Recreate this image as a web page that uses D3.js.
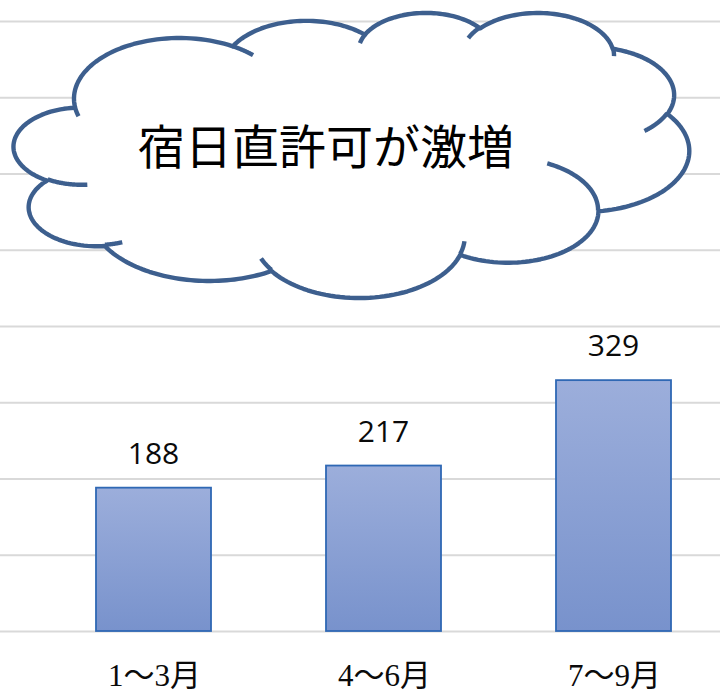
<!DOCTYPE html>
<html>
<head>
<meta charset="utf-8">
<script src="https://cdn.jsdelivr.net/npm/d3@7"></script>
<style>
  html, body { margin: 0; padding: 0; background: #ffffff; }
  svg { display: block; }
</style>
</head>
<body>
<svg id="chart" width="720" height="694"></svg>
<script>
// Quarterly counts of granted night/holiday duty permits
const categories = ["1～3月", "4～6月", "7～9月"];
const permits = [188, 217, 329];
const yTicks = [0, 100, 200, 300, 400, 500, 600, 700, 800];
const headline = "宿日直許可が激増";

const W = 720, H = 694;
const svg = d3.select("#chart");

const x = d3.scaleBand()
  .domain(categories)
  .range([38.5, 728.5])
  .paddingInner(0.5)
  .paddingOuter(0.25);

const y = d3.scaleLinear()
  .domain([0, 800])
  .range([631, 21]);

// horizontal gridlines across the whole width
const grid = svg.append("g")
  .attr("class", "grid")
  .call(d3.axisLeft(y).tickValues(yTicks).tickSize(-W).tickFormat(""));
grid.select(".domain").remove();
grid.selectAll(".tick line")
  .attr("stroke", "#d9d9d9")
  .attr("stroke-width", 2);

// vertical gradient fill for the bars
const defs = svg.append("defs");
const grad = defs.append("linearGradient")
  .attr("id", "barFill")
  .attr("x1", 0).attr("y1", 0).attr("x2", 0).attr("y2", 1);
grad.append("stop").attr("offset", "0%").attr("stop-color", "#9caedb");
grad.append("stop").attr("offset", "100%").attr("stop-color", "#7892cc");

svg.append("g").selectAll("rect")
  .data(permits)
  .join("rect")
  .attr("x", (d, i) => x(categories[i]))
  .attr("y", d => y(d))
  .attr("width", x.bandwidth())
  .attr("height", d => y(0) - y(d))
  .attr("fill", "url(#barFill)")
  .attr("stroke", "#2f68b4")
  .attr("stroke-width", 1.8);

// value labels above the bars
svg.append("g").selectAll("text")
  .data(permits)
  .join("text")
  .attr("x", (d, i) => x(categories[i]) + x.bandwidth() / 2)
  .attr("y", d => y(d) - 24)
  .attr("text-anchor", "middle")
  .attr("font-family", "'Open Sans', 'Noto Sans', sans-serif")
  .attr("font-size", 30)
  .attr("fill", "#0a0a0a")
  .text(d => d);

// category labels under the baseline
svg.append("g").selectAll("text")
  .data(categories)
  .join("text")
  .attr("x", d => x(d) + x.bandwidth() / 2 + 1)
  .attr("y", 686)
  .attr("text-anchor", "middle")
  .attr("font-family", "'Liberation Serif', 'Noto Sans CJK JP', serif")
  .attr("font-size", 31)
  .attr("fill", "#0a0a0a")
  .text(d => d);

// ---- cloud callout (preset cloud geometry, 43200 x 43200 path space) ----
const cloudBox = { x: 14, y: 12, w: 675, h: 285 };
const PS = 43200;
const A = v => v / 60000 * Math.PI / 180;

function paramAngle(wR, hR, a) {
  const t = Math.atan2(wR * Math.sin(a), hR * Math.cos(a));
  let d = t - a;
  while (d > Math.PI) d -= 2 * Math.PI;
  while (d < -Math.PI) d += 2 * Math.PI;
  return a + d;
}

function arcPoints(cur, wR, hR, stAng, swAng) {
  const a0 = A(stAng), a1 = A(stAng + swAng);
  const t0 = paramAngle(wR, hR, a0), t1 = paramAngle(wR, hR, a1);
  const cx = cur[0] - wR * Math.cos(t0), cy = cur[1] - hR * Math.sin(t0);
  const n = 48, pts = [];
  for (let k = 1; k <= n; k++) {
    const t = t0 + (t1 - t0) * k / n;
    pts.push([cx + wR * Math.cos(t), cy + hR * Math.sin(t)]);
  }
  return pts;
}

const toPx = p => [cloudBox.x + p[0] / PS * cloudBox.w, cloudBox.y + p[1] / PS * cloudBox.h];

const outlineStart = [3900, 14370];
const outlineArcs = [
  [6753, 9190, -11429249, 7426832],
  [5333, 7267, -8646143, 5396714],
  [4365, 5945, -8748475, 5983381],
  [4857, 6595, -7859164, 7034504],
  [5333, 7273, -4722533, 6541615],
  [6775, 9220, -2776035, 7816140],
  [5785, 7867, 37501, 6842000],
  [6752, 9215, 1347096, 6910353],
  [7720, 10543, 3974558, 4542661],
  [4360, 5918, -16496525, 8804134],
  [4345, 5945, -14809710, 9151131]
];
const hookArcs = [
  [[4693, 26177], 4345, 5945, 5204520, 1585770],
  [[6928, 34899], 4360, 5918, 4416628, 686848],
  [[16478, 39090], 6752, 9215, 8257449, 844866],
  [[28827, 34751], 6752, 9215, 387196, 959901],
  [[34129, 22954], 5785, 7867, -4217541, 4255042],
  [[41798, 15354], 5333, 7273, 1819082, 1665090],
  [[38324, 5426], 4857, 6595, -824660, 891534],
  [[29078, 3952], 4857, 6595, -8950887, 1091722],
  [[22141, 4720], 4365, 5945, -9809656, 1061181],
  [[14000, 5192], 6753, 9190, -4002417, 739161],
  [[4127, 15789], 6753, 9190, 9459261, 711490]
];

let cur = outlineStart;
const outline = [toPx(cur)];
outlineArcs.forEach(([wR, hR, st, sw]) => {
  const pts = arcPoints(cur, wR, hR, st, sw);
  pts.forEach(p => outline.push(toPx(p)));
  cur = pts[pts.length - 1];
});

const cloudStroke = "#3d5f8e";
svg.append("path")
  .attr("d", d3.line()(outline) + "Z")
  .attr("fill", "#ffffff")
  .attr("stroke", cloudStroke)
  .attr("stroke-width", 4.4)
  .attr("stroke-linejoin", "round");

hookArcs.forEach(([start, wR, hR, st, sw]) => {
  const pts = [start].concat(arcPoints(start, wR, hR, st, sw)).map(toPx);
  svg.append("path")
    .attr("d", d3.line()(pts))
    .attr("fill", "none")
    .attr("stroke", cloudStroke)
    .attr("stroke-width", 4.4);
});

svg.append("text")
  .attr("x", 326)
  .attr("y", 164)
  .attr("text-anchor", "middle")
  .attr("font-family", "'Noto Sans CJK JP', sans-serif")
  .attr("font-size", 47)
  .attr("fill", "#000")
  .text(headline);
</script>
</body>
</html>
